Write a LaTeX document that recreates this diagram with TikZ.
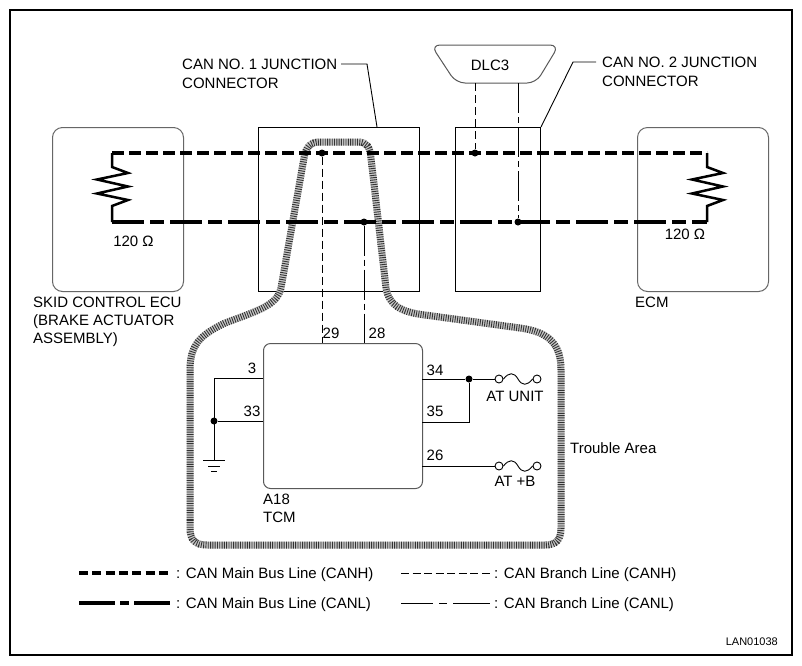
\documentclass[tikz,border=0pt]{standalone}
\usepackage{fontspec}
\setmainfont{Liberation Sans}
\begin{document}
\begin{tikzpicture}[x=1pt,y=-1pt,
  lab/.style={inner sep=0pt, font=\fontsize{15}{18}\selectfont},
  leg/.style={inner sep=0pt, font=\fontsize{15}{18}\selectfont},
  small/.style={inner sep=0pt, font=\fontsize{11}{13}\selectfont},
  thinbox/.style={draw, line width=1pt, inner sep=0pt},
  ecubox/.style={draw=black!60, line width=1pt, rounded corners=10pt, inner sep=0pt},
  canh/.style={line width=3.8pt, dash pattern=on 12pt off 5pt},
  canl/.style={line width=3.8pt, dash pattern=on 32pt off 6pt on 14pt off 6pt},
  brh/.style={line width=0.9pt, dash pattern=on 8pt off 4pt},
  brl/.style={line width=0.9pt, dash pattern=on 30pt off 4pt on 6pt off 4pt},
  wire/.style={line width=0.9pt},
  res/.style={line width=2.5pt, line join=miter},
  jdot/.style={circle, fill, inner sep=0pt, minimum size=7pt},
  term/.style={circle, draw, line width=0.9pt, fill=white, inner sep=0pt, minimum size=8pt},
  trouble/.style={line width=7pt, draw=black!80, dash pattern=on 0.9pt off 1.4pt,
     preaction={draw=black!22, line width=7pt, solid}},
]
\useasboundingbox (0,0) rectangle (802,665);
\fill[white] (0,0) rectangle (802,665);
\draw[line width=1.2pt] (10,10) rectangle (792,655);

% boxes
\node[ecubox, anchor=north west, minimum width=131pt, minimum height=164pt] (skid) at (52,127) {};
\node[ecubox, anchor=north west, minimum width=131pt, minimum height=164pt] (ecm) at (637,127) {};
\node[thinbox, anchor=north west, minimum width=161pt, minimum height=164pt] (j1) at (258,127) {};
\node[thinbox, anchor=north west, minimum width=85pt, minimum height=164pt] (j2) at (455,127) {};
\node[draw=black!65, line width=1pt, rounded corners=7pt, anchor=north west, minimum width=159pt, minimum height=145pt, inner sep=0pt] (tcm) at (263,343) {};

% DLC3
\draw[line width=1pt, black!65, rounded corners=9pt] (431,45) -- (559,45) -- (536,83) -- (456,83) -- cycle;
\node[lab] (dlc) at (490,65) {DLC3};
\coordinate (dlcH) at (475,83);
\coordinate (dlcL) at (518,83);

% trouble area
\draw[trouble] (190,520) -- (190,370) .. controls (190,345) and (200,335) .. (225,323)
  .. controls (260,310) and (277,305) .. (281,288) -- (304,158)
  .. controls (306,147) and (310,142) .. (320,142) -- (358,142)
  .. controls (367,142) and (370,147) .. (371,158) -- (386,288)
  .. controls (389,305) and (400,312) .. (425,315) -- (520,328)
  .. controls (550,332) and (561,345) .. (561,370) -- (561,528)
  .. controls (561,540) and (556,545) .. (545,545) -- (207,545)
  .. controls (195,545) and (190,540) .. (190,528) -- cycle;

% bus ends and junctions
\coordinate (lH) at (112,153);
\coordinate (rH) at (707,153);
\coordinate (lL) at (112,222);
\coordinate (rL) at (707,222);
\node[jdot] (d29) at (322,153) {};
\node[jdot] (d28) at (364,222) {};
\node[jdot] (dH) at (475,153) {};
\node[jdot] (dL) at (518,222) {};

\draw[canh] (lH) -- (rH);
\draw[canl] (lL) -- (rL);

% resistors
\draw[res] (lH) -- (112,167) -- (128,173) -- (97,179.5) -- (128,186.5) -- (97,193.5) -- (128,200) -- (112,206) -- (lL);
\draw[res] (rH) -- (707,167) -- (723,173) -- (692,179.5) -- (723,186.5) -- (692,193.5) -- (723,200) -- (707,206) -- (rL);

% branches
\draw[brh] (d29) -- (d29 |- tcm.north);
\draw[brl] (d28) -- (d28 |- tcm.north);
\draw[brh] (dlcH) -- (dH);
\draw[brl] (dlcL) -- (dL);

% leaders
\coordinate (j1tip) at (377,127);
\draw[wire] (341,64) -- (367,64) -- (j1tip);
\draw[wire] (596,62) -- (573,62) -- (j2.north east);

% TCM pins
\coordinate (t3) at (263,378);
\coordinate (t33) at (263,421);
\coordinate (t34) at (422,379);
\coordinate (t35) at (422,422);
\coordinate (t26) at (422,466);
\coordinate (gnd) at (214,460);
\node[jdot] (g) at (214,421) {};
\node[jdot] (d34) at (469,379) {};
\draw[wire] (t3) -- (214,378) -- (gnd);
\draw[wire] (t33) -- (g);
\draw[wire] (203,460) -- (225,460) (208,466) -- (220,466) (211,471) -- (217,471);

\node[term] (f1a) at (499,379) {};
\node[term] (f1b) at (537,379) {};
\node[term] (f2a) at (499,466) {};
\node[term] (f2b) at (537,466) {};
\draw[wire] (t34) -- (d34) -- (f1a);
\draw[wire] (t35) -- (469,422) -- (d34);
\draw[wire] (t26) -- (f2a);
\draw[wire] (f1a.east) .. controls (509,372) and (514,372) .. (518,379) .. controls (522,386) and (527,386) .. (f1b.west);
\draw[wire] (f2a.east) .. controls (509,459) and (514,459) .. (518,466) .. controls (522,473) and (527,473) .. (f2b.west);

% texts
\node[lab, anchor=base west] at (182,69.5) {CAN NO. 1 JUNCTION};
\node[lab, anchor=base west] at (182,88) {CONNECTOR};
\node[lab, anchor=base west] at (602,67.5) {CAN NO. 2 JUNCTION};
\node[lab, anchor=base west] at (602,86) {CONNECTOR};
\node[lab, anchor=base west] at (33,307.5) {SKID CONTROL ECU};
\node[lab, anchor=base west] at (33,325.5) {(BRAKE ACTUATOR};
\node[lab, anchor=base west] at (33,343.5) {ASSEMBLY)};
\node[lab, anchor=base west] at (635,307.5) {ECM};
\node[lab, anchor=base] at (133.5,246.5) {120 Ω};
\node[lab, anchor=base] at (685,239.5) {120 Ω};
\node[lab, anchor=base] at (331,338.5) {29};
\node[lab, anchor=base] at (377,338.5) {28};
\node[lab, anchor=base] at (252,373.5) {3};
\node[lab, anchor=base] at (252,416.5) {33};
\node[lab, anchor=base] at (435,375.5) {34};
\node[lab, anchor=base] at (435,416.5) {35};
\node[lab, anchor=base] at (435,460.5) {26};
\node[lab, anchor=base] at (515,401.5) {AT UNIT};
\node[lab, anchor=base] at (515,486.5) {AT +B};
\node[lab, anchor=base west] at (263,504.5) {A18};
\node[lab, anchor=base west] at (263,522.5) {TCM};
\node[lab, anchor=base west] at (570,453.5) {Trouble Area};

% legend
\coordinate (la1) at (79,573); \coordinate (lb1) at (170,573);
\coordinate (la2) at (79,603); \coordinate (lb2) at (170,603);
\coordinate (lc1) at (401,573); \coordinate (ld1) at (490,573);
\coordinate (lc2) at (401,603); \coordinate (ld2) at (490,603);
\draw[line width=3.5pt, dash pattern=on 9pt off 4.33pt] (la1) -- (lb1);
\draw[line width=3.5pt, dash pattern=on 36pt off 5pt on 9pt off 5pt on 36pt off 10pt] (la2) -- (lb2);
\draw[line width=0.9pt, dash pattern=on 8pt off 3.57pt] (lc1) -- (ld1);
\draw[line width=0.9pt, dash pattern=on 32pt off 6pt on 8pt off 6pt on 37pt off 10pt] (lc2) -- (ld2);
\node[leg, anchor=base west] at (176,578.3) {: CAN Main Bus Line (CANH)};
\node[leg, anchor=base west] at (176,608.3) {: CAN Main Bus Line (CANL)};
\node[leg, anchor=base west] at (494,578.3) {: CAN Branch Line (CANH)};
\node[leg, anchor=base west] at (494,608.3) {: CAN Branch Line (CANL)};
\node[small, anchor=base east] at (778,645.5) {LAN01038};
\end{tikzpicture}
\end{document}
